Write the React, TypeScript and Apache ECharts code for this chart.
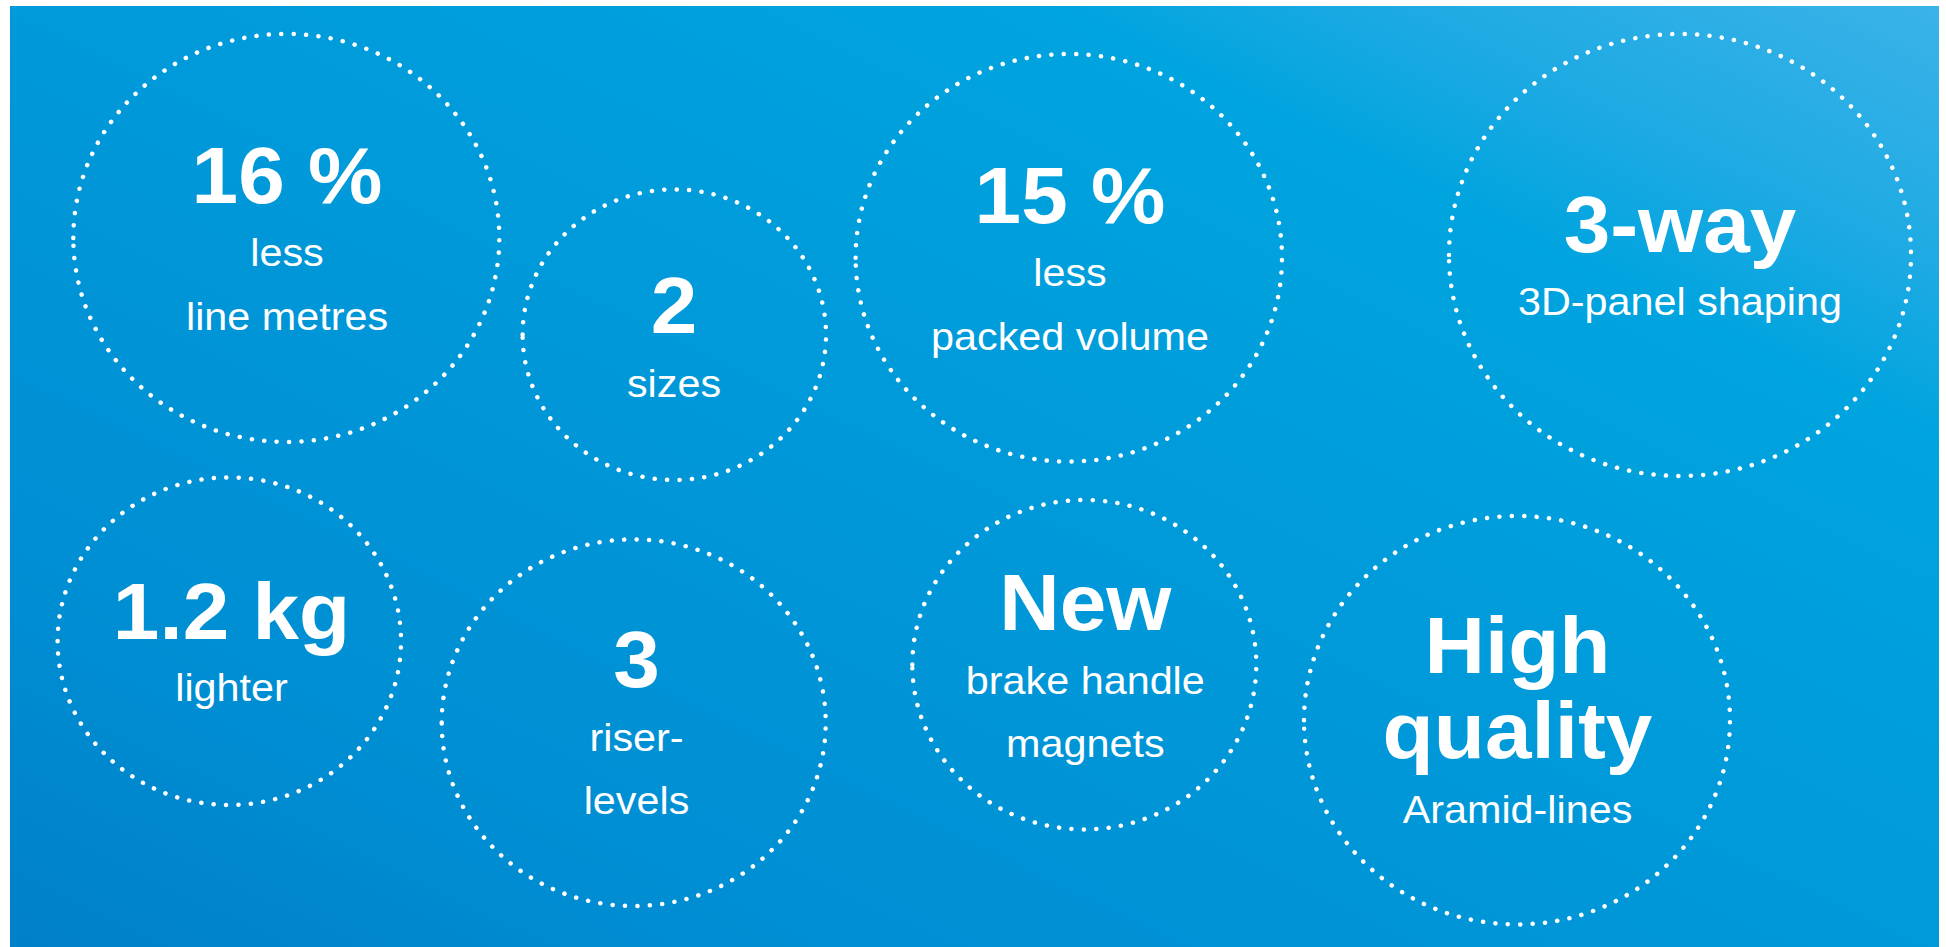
import React, { useEffect, useRef } from "react";
import * as echarts from "echarts";

// Content of each badge
const HEADLINES: string[][] = [
  ["16 %"],
  ["2"],
  ["15 %"],
  ["3-way"],
  ["1.2 kg"],
  ["3"],
  ["New"],
  ["High", "quality"],
];
const CAPTIONS: string[][] = [
  ["less", "line metres"],
  ["sizes"],
  ["less", "packed volume"],
  ["3D-panel shaping"],
  ["lighter"],
  ["riser-", "levels"],
  ["brake handle", "magnets"],
  ["Aramid-lines"],
];

// Layout (pixel geometry) of each badge: ellipse and the y of each text line
const LAYOUT = [
  { cx: 286.3, cy: 237.9, rx: 213, ry: 204, tx: 287, ys: [175, 252.5, 317] },
  { cx: 674.3, cy: 334.7, rx: 151.7, ry: 145.3, tx: 674, ys: [305, 383.7] },
  { cx: 1068.8, cy: 257.8, rx: 213.2, ry: 203.8, tx: 1070, ys: [195, 272.5, 336.7] },
  { cx: 1680, cy: 255, rx: 231, ry: 221, tx: 1680, ys: [224.7, 302.2] },
  { cx: 229.3, cy: 641.2, rx: 171.7, ry: 163.8, tx: 231.5, ys: [611, 688.3] },
  { cx: 633.7, cy: 722.7, rx: 192, ry: 183.3, tx: 636.5, ys: [659.7, 738, 800.8] },
  { cx: 1084.3, cy: 664.7, rx: 172, ry: 164.7, tx: 1085.3, ys: [602.7, 680.8, 744.3] },
  { cx: 1517, cy: 720.2, rx: 213, ry: 204.2, tx: 1517.5, ys: [645.8, 730.8, 810] },
];

const FONT = '"Liberation Sans", Arial, Helvetica, sans-serif';

export default function App() {
  const ref = useRef<HTMLDivElement>(null);

  useEffect(() => {
    document.body.style.margin = "0";
    if (!ref.current) return;
    const chart = echarts.init(ref.current, undefined, { renderer: "svg" });

    const elements: any[] = [];
    elements.push({
      type: "rect",
      silent: true,
      shape: { x: 10, y: 6, width: 1929, height: 941 },
      style: {
        fill: new echarts.graphic.LinearGradient(0, 1, 1, 0, [
          { offset: 0, color: "#0080c8" },
          { offset: 0.2, color: "#008ed3" },
          { offset: 0.5, color: "#0099d9" },
          { offset: 0.77, color: "#00a4df" },
          { offset: 0.86, color: "#1eaae3" },
          { offset: 1, color: "#3ab3e8" },
        ]),
      },
    });

    LAYOUT.forEach((L, i) => {
      elements.push({
        type: "ellipse",
        silent: true,
        shape: { cx: L.cx, cy: L.cy, rx: L.rx, ry: L.ry },
        style: {
          fill: "none",
          stroke: "#ffffff",
          lineWidth: 4.5,
          lineDash: [0.1, 12.3],
          lineCap: "round",
        },
      });
      const lines = [
        ...HEADLINES[i].map((t) => ({ t, bold: true })),
        ...CAPTIONS[i].map((t) => ({ t, bold: false })),
      ];
      lines.forEach((ln, k) => {
        elements.push({
          type: "text",
          silent: true,
          x: L.tx,
          y: L.ys[k],
          scaleX: ln.bold ? 1.06 : 1.06,
          style: {
            text: ln.t,
            fill: "#ffffff",
            fontFamily: FONT,
            fontSize: ln.bold ? 79 : 39,
            fontWeight: ln.bold ? "bold" : "normal",
            align: "center",
            verticalAlign: "middle",
          },
        });
      });
    });

    chart.setOption({
      animation: false,
      backgroundColor: "#ffffff",
      graphic: { elements },
    });

    return () => {
      chart.dispose();
    };
  }, []);

  return <div ref={ref} style={{ width: 1946, height: 947 }} />;
}
